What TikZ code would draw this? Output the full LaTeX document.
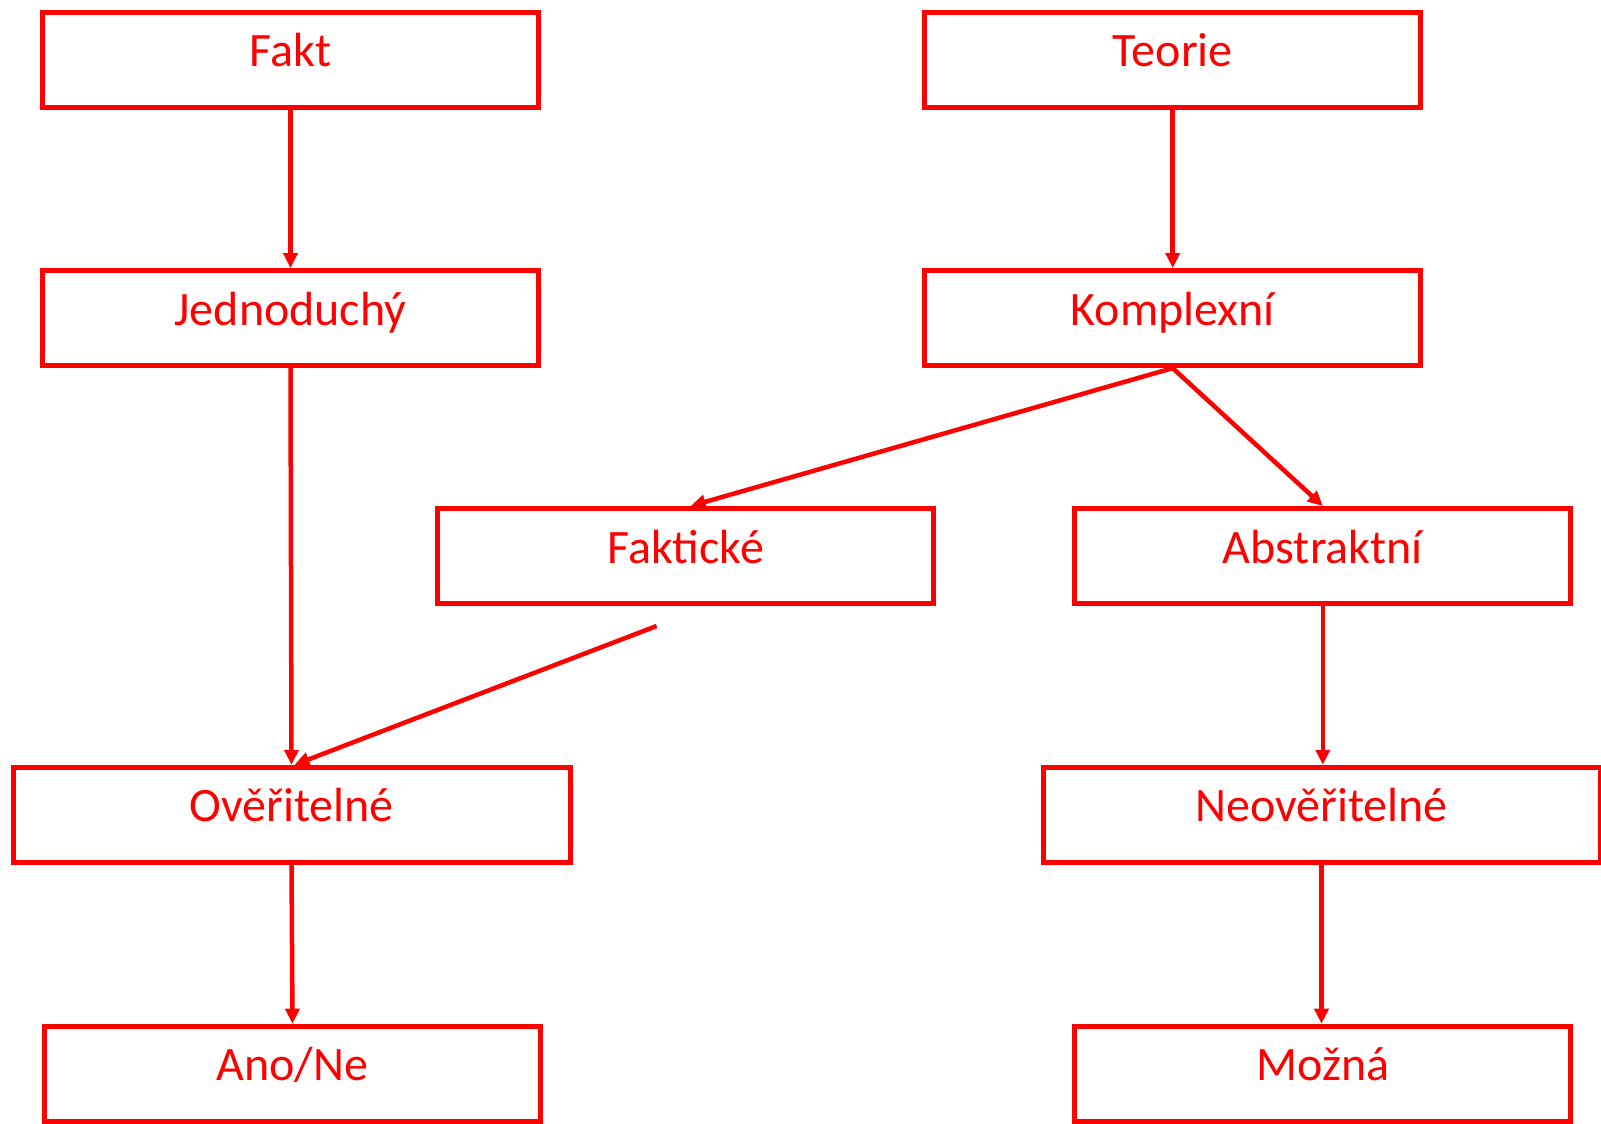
\documentclass[tikz,border=0pt]{standalone}
\usepackage{fontspec}
\setmainfont{Carlito}
\usetikzlibrary{arrows.meta}
\definecolor{pptred}{RGB}{255,0,0}
\begin{document}
\begin{tikzpicture}[x=1pt,y=-1pt,
 box/.style={draw=pptred, line width=5pt, minimum width=496pt, minimum height=95pt, inner sep=0pt},
 wide/.style={box, minimum width=557pt},
 lbl/.style={text=pptred, font=\fontsize{48}{58}\selectfont, anchor=base, inner sep=0pt},
 conn/.style={draw=pptred, line width=4.5pt, -{Triangle[length=15pt,width=14pt]}}]
\useasboundingbox (0,0) rectangle (1601,1124);
% boxes
\node[box] (fakt) at (290.5,59.7) {};
\node[box] (jed)  at (290.5,318.1) {};
\node[box] (teo)  at (1172.7,59.7) {};
\node[box] (kom)  at (1172.7,318.1) {};
\node[box] (fak)  at (685.7,556) {};
\node[box] (abs)  at (1322.8,556) {};
\node[wide] (ovr) at (291.5,814.8) {};
\node[wide] (neo) at (1321.5,814.8) {};
\node[box] (ano)  at (292.5,1073.7) {};
\node[box] (moz)  at (1322.8,1073.7) {};
% labels
\node[lbl] (faktT) at ([yshift=-7pt]fakt.center) {Fakt};
\node[lbl] (jedT)  at ([yshift=-7pt]jed.center) {Jednoduchý};
\node[lbl] (teoT)  at ([yshift=-7pt]teo.center) {Teorie};
\node[lbl] (komT)  at ([yshift=-7pt]kom.center) {Komplexní};
\node[lbl] (fakT)  at ([yshift=-7pt]fak.center) {Faktické};
\node[lbl] (absT)  at ([yshift=-7pt]abs.center) {Abstraktní};
\node[lbl] (ovrT)  at ([yshift=-7pt]ovr.center) {Ověřitelné};
\node[lbl] (neoT)  at ([yshift=-7pt]neo.center) {Neověřitelné};
\node[lbl] (anoT)  at ([yshift=-7pt]ano.center) {Ano/Ne};
\node[lbl] (mozT)  at ([yshift=-7pt]moz.center) {Možná};
% connectors
\coordinate (free) at (656.6,626);
\draw[conn] (fakt.south) -- (fakt.south |- jed.north);
\draw[conn] (teo.south) -- (teo.south |- kom.north);
\draw[conn] (kom.south) -- ([xshift=5pt]fak.north);
\draw[conn] (kom.south) -- (abs.north);
\draw[conn] (jed.south) -- (ovr.north);
\draw[conn] (free) -- ([xshift=3pt]ovr.north);
\draw[conn] (ovr.south) -- (ano.north);
\draw[conn] (abs.south) -- (abs.south |- neo.north);
\draw[conn] (neo.south) -- (neo.south |- moz.north);
\end{tikzpicture}
\end{document}
